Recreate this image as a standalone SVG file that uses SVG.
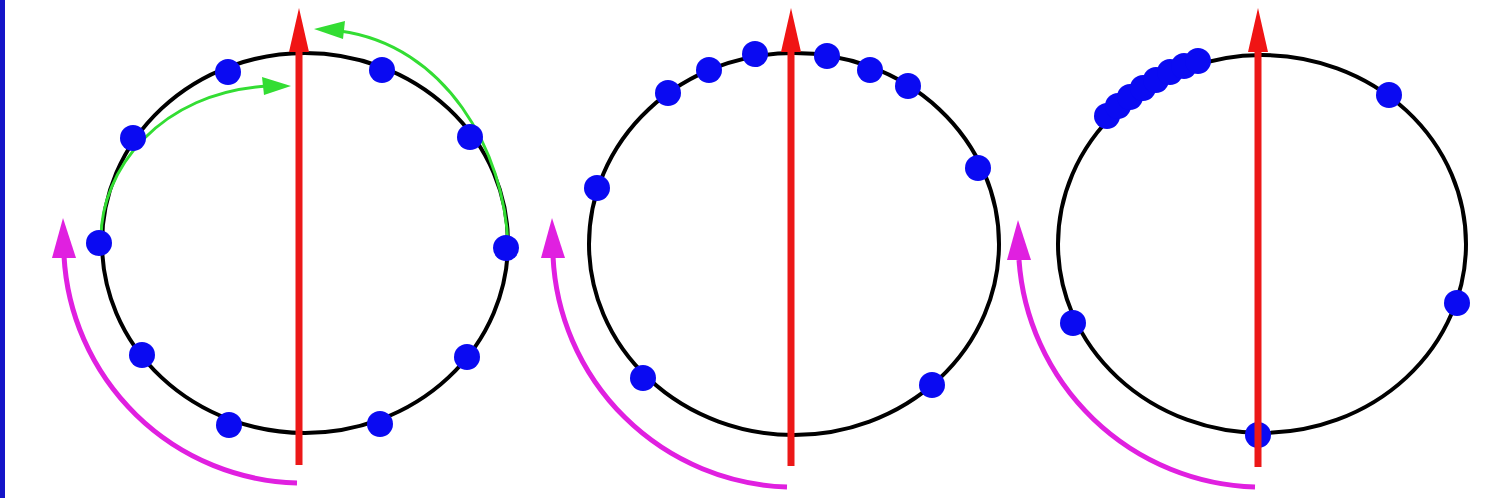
<svg xmlns="http://www.w3.org/2000/svg" width="1494" height="498" viewBox="0 0 1494 498">
<style>
.ring{fill:none;stroke:#000;stroke-width:4}
.dot{fill:#0a0af2}
.axis{stroke:#ec1818;stroke-width:7}
.axhead{fill:#f01414}
.rot{fill:none;stroke:#e020e0;stroke-width:5}
.rothead{fill:#e020e0}
.mov{fill:none;stroke:#33dd33;stroke-width:3}
.movhead{fill:#33dd33}
</style>
<rect width="1494" height="498" fill="#fff"/>
<rect x="0" y="0" width="5" height="498" fill="#1414c8"/>

<g id="panel1">
  <ellipse class="ring" cx="305" cy="243" rx="203" ry="190"/>
  <path class="rot" d="M297 483 A240 240 0 0 1 64 256"/>
  <polygon class="rothead" points="63,218 52,258 76,258"/>
  <g id="moves1">
    <path class="mov" d="M101 240 C100 170 160 92 268 86"/>
    <polygon class="movhead" points="291,86 262,77 264,95"/>
    <path class="mov" d="M508 246 C505 150 445 45 340 31"/>
    <polygon class="movhead" points="314,29 345,21 343,39"/>
  </g>
  <circle class="dot" cx="228" cy="72" r="13"/>
  <circle class="dot" cx="382" cy="70" r="13"/>
  <circle class="dot" cx="133" cy="138" r="13"/>
  <circle class="dot" cx="470" cy="137" r="13"/>
  <circle class="dot" cx="99" cy="243" r="13"/>
  <circle class="dot" cx="506" cy="248" r="13"/>
  <circle class="dot" cx="142" cy="355" r="13"/>
  <circle class="dot" cx="467" cy="357" r="13"/>
  <circle class="dot" cx="229" cy="425" r="13"/>
  <circle class="dot" cx="380" cy="424" r="13"/>
  <line class="axis" x1="299" y1="465" x2="299" y2="45"/>
  <polygon class="axhead" points="299,8 289,52 309,52"/>
</g>

<g id="panel2">
  <ellipse class="ring" cx="794" cy="244" rx="205" ry="191"/>
  <path class="rot" d="M787 487 A242 242 0 0 1 553 256"/>
  <polygon class="rothead" points="552,218 541,258 565,258"/>
  <circle class="dot" cx="597" cy="188" r="13"/>
  <circle class="dot" cx="668" cy="93" r="13"/>
  <circle class="dot" cx="709" cy="70" r="13"/>
  <circle class="dot" cx="755" cy="54" r="13"/>
  <circle class="dot" cx="827" cy="56" r="13"/>
  <circle class="dot" cx="870" cy="70" r="13"/>
  <circle class="dot" cx="908" cy="86" r="13"/>
  <circle class="dot" cx="978" cy="168" r="13"/>
  <circle class="dot" cx="643" cy="378" r="13"/>
  <circle class="dot" cx="932" cy="385" r="13"/>
  <line class="axis" x1="791" y1="466" x2="791" y2="45"/>
  <polygon class="axhead" points="791,8 781,52 801,52"/>
</g>

<g id="panel3">
  <ellipse class="ring" cx="1262" cy="244" rx="204" ry="189"/>
  <path class="rot" d="M1255 487 A244 244 0 0 1 1019 260"/>
  <polygon class="rothead" points="1018,220 1007,260 1031,260"/>
  <circle class="dot" cx="1107" cy="116" r="13"/>
  <circle class="dot" cx="1118" cy="106" r="13"/>
  <circle class="dot" cx="1130" cy="97" r="13"/>
  <circle class="dot" cx="1143" cy="88" r="13"/>
  <circle class="dot" cx="1156" cy="80" r="13"/>
  <circle class="dot" cx="1170" cy="72" r="13"/>
  <circle class="dot" cx="1184" cy="66" r="13"/>
  <circle class="dot" cx="1198" cy="61" r="13"/>
  <circle class="dot" cx="1389" cy="95" r="13"/>
  <circle class="dot" cx="1457" cy="303" r="13"/>
  <circle class="dot" cx="1073" cy="323" r="13"/>
  <circle class="dot" cx="1258" cy="435" r="13"/>
  <line class="axis" x1="1258" y1="467" x2="1258" y2="45"/>
  <polygon class="axhead" points="1258,8 1248,52 1268,52"/>
</g>
</svg>
